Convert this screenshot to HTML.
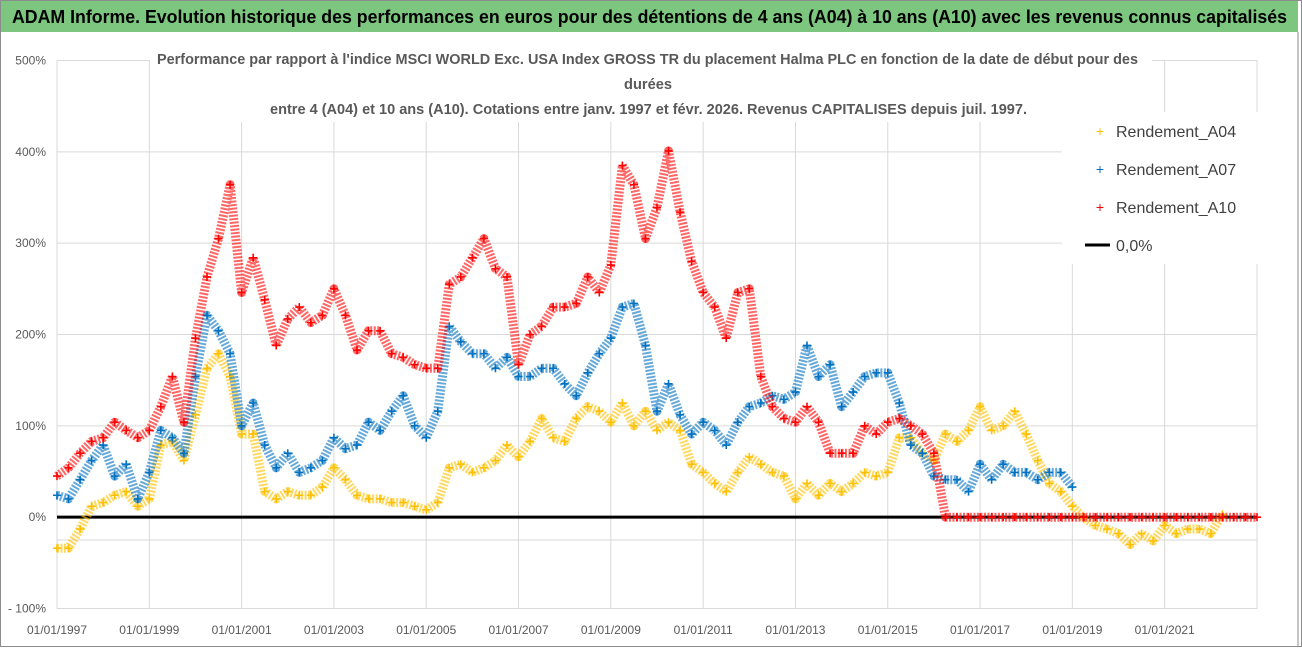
<!DOCTYPE html>
<html><head><meta charset="utf-8"><style>
html,body{margin:0;padding:0;background:#fff;}
body{width:1302px;height:647px;overflow:hidden;font-family:"Liberation Sans",sans-serif;}
</style></head><body>
<svg id="chart" width="1302" height="647" viewBox="0 0 1302 647" xmlns="http://www.w3.org/2000/svg">
<rect x="0.5" y="0.5" width="1301" height="646" fill="#fff" stroke="#8c8c8c"/>
<rect x="1" y="1" width="1297" height="31" fill="#7dc67f"/>
<text x="12" y="23" font-family="Liberation Sans, sans-serif" font-size="18.5" font-weight="bold" fill="#000" textLength="1275" lengthAdjust="spacingAndGlyphs">ADAM Informe. Evolution historique des performances en euros pour des détentions de 4 ans (A04) à 10 ans (A10) avec les revenus connus capitalisés</text>
<line x1="1298" y1="32" x2="1298" y2="646" stroke="#8c8c8c"/>
<g id="grid"></g>
<g id="marks"></g>
<rect x="150" y="44" width="1002" height="78" fill="#fff"/>
<g font-family="Liberation Sans, sans-serif" font-size="14.5" font-weight="bold" fill="#595959">
<text x="157" y="64" textLength="981" lengthAdjust="spacingAndGlyphs">Performance par rapport à l'indice MSCI WORLD Exc. USA Index GROSS TR  du placement Halma PLC en fonction de la date de début pour des</text>
<text x="624" y="89" textLength="48" lengthAdjust="spacingAndGlyphs">durées</text>
<text x="270" y="114" textLength="757" lengthAdjust="spacingAndGlyphs">entre 4 (A04) et 10 ans (A10). Cotations entre janv. 1997 et févr. 2026. Revenus CAPITALISES depuis juil. 1997.</text>
</g>
<g>
<rect x="1062" y="112" width="196" height="152" fill="#fff"/>
<text x="1100" y="136" font-size="14" fill="#ffc000" text-anchor="middle">+</text>
<text x="1116" y="137" font-size="16" fill="#404040">Rendement_A04</text>
<text x="1100" y="174" font-size="14" fill="#0070c0" text-anchor="middle">+</text>
<text x="1116" y="175" font-size="16" fill="#404040">Rendement_A07</text>
<text x="1100" y="212" font-size="14" fill="#ff0000" text-anchor="middle">+</text>
<text x="1116" y="213" font-size="16" fill="#404040">Rendement_A10</text>
<line x1="1085" y1="245" x2="1110" y2="245" stroke="#000" stroke-width="3"/>
<text x="1116" y="251" font-size="16" fill="#404040">0,0%</text>
</g>
</svg>
<script>
const yTicks = [-100, 0, 100, 200, 300, 400, 500];
const yTickLabels = ["- 100%", "0%", "100%", "200%", "300%", "400%", "500%"];
const xTickYears = [1997, 1999, 2001, 2003, 2005, 2007, 2009, 2011, 2013, 2015, 2017, 2019, 2021];
const xTickLabels = ["01/01/1997","01/01/1999","01/01/2001","01/01/2003","01/01/2005","01/01/2007","01/01/2009","01/01/2011","01/01/2013","01/01/2015","01/01/2017","01/01/2019","01/01/2021"];
const a04Start = 1997.0;
const a04 = [-34,-34,-13,12,16,24,28,12,20,79,83,62,112,163,179,154,91,91,28,20,28,24,24,33,54,41,24,20,20,16,16,12,8,
16,54,58,49,54,62,79,66,83,108,87,83,108,121,116,104,125,100,116,95,104,95,58,49,37,28,49,66,58,49,45,20,37,24,37,28,37,49,
45,49,87,87,70,62,91,83,95,121,95,100,116,91,62,37,28,12,-1,-9,-13,-18,-30,-18,-26,-9,-18,-13,-13,-18,3];
const a07Start = 1997.0;
const a07 = [24,20,41,62,79,45,58,20,49,95,87,70,154,221,204,179,100,125,79,54,70,49,54,62,87,75,79,104,95,116,133,100,87,
116,209,192,179,179,163,175,154,154,163,163,146,133,158,179,196,230,234,188,116,146,112,91,104,95,79,104,121,125,133,129,137,188,154,167,121,137,154,
158,158,125,79,70,45,41,41,28,58,41,58,49,49,41,49,49,33];
const a10Start = 1997.0;
const a10 = [45,54,70,83,87,104,95,87,95,121,154,104,196,263,305,364,246,284,238,188,217,230,213,221,250,221,183,204,204,179,175,167,163,
163,255,263,284,305,272,263,167,200,209,230,230,234,263,246,276,385,364,305,339,401,334,280,246,230,196,246,250,154,121,108,104,121,104,70,70,70,100,
91,104,108,100,91,70,0,0,0,0,0,0,0,0,0,0,0,0,0,0,0,0,0,0,0,0,0,0,0,0,0,0,0,0];
const stepYears = 0.25;
const zeroLine = [0, 0];
const xMin = 1997, xMax = 2023, yMin = -100, yMax = 500;
const plotL = 57, plotR = 1257, plotT = 60.5, plotB = 608.5;
function xs(y){ return plotL + (y - xMin) / (xMax - xMin) * (plotR - plotL); }
function ys(v){ return plotB - (v - yMin) / (yMax - yMin) * (plotB - plotT); }
const NS = "http://www.w3.org/2000/svg";
const svg = document.getElementById('chart');
const grid = document.getElementById('grid');
const marks = document.getElementById('marks');
function mk(tag, attrs, parent){ const e = document.createElementNS(NS, tag); for (const k in attrs) e.setAttribute(k, attrs[k]); parent.appendChild(e); return e; }
yTicks.forEach((v, i) => {
  const l = mk('line', {x1: plotL, x2: plotR, y1: ys(v), y2: ys(v), stroke: '#d9d9d9', 'stroke-width': 1}, grid);
  
  
  const t = mk('text', {x: 46, y: ys(v) + 4, 'font-size': 12, fill: '#595959', 'text-anchor': 'end'}, svg);
  t.textContent = yTickLabels[i];
  
  
});
const extra = mk('line', {x1: plotL, x2: plotR, y1: ys(-25), y2: ys(-25), stroke: '#d9d9d9', 'stroke-width': 1}, grid);


mk('line', {x1: plotR, x2: plotR, y1: plotT, y2: plotB, stroke: '#d9d9d9'}, grid);
xTickYears.forEach((yr, i) => {
  const l = mk('line', {x1: xs(yr), x2: xs(yr), y1: plotT, y2: plotB, stroke: '#d9d9d9', 'stroke-width': 1}, grid);
  
  
  const t = mk('text', {x: xs(yr), y: 634, 'font-size': 12, fill: '#595959', 'text-anchor': 'middle'}, svg);
  t.textContent = xTickLabels[i];
  
  
});
const zl = mk('line', {x1: xs(xMin), x2: xs(xMax), y1: ys(zeroLine[0]), y2: ys(zeroLine[1]), stroke: '#000', 'stroke-width': 3}, marks);


function drawSeries(data, start, color, name){
  const g = mk('g', {}, marks);
  
  
  const pts = data.map((v, i) => xs(start + i * stepYears).toFixed(1) + ',' + ys(v).toFixed(1)).join(' ');
  mk('polyline', {points: pts, fill: 'none', stroke: color, 'stroke-width': 9, 'stroke-opacity': 0.6, 'stroke-linejoin': 'round', 'stroke-dasharray': '2 1.5'}, g);
  data.forEach((v, i) => {
    const x = xs(start + i * stepYears), y = ys(v);
    const p = mk('path', {d: `M${x-4},${y}H${x+4}M${x},${y-4}V${y+4}`, stroke: color, 'stroke-width': 1.6}, g);
    
    
  });
}
drawSeries(a04, a04Start, '#ffc000', 'series-a04');
drawSeries(a07, a07Start, '#0070c0', 'series-a07');
drawSeries(a10, a10Start, '#ff0000', 'series-a10');
</script>
</body></html>
